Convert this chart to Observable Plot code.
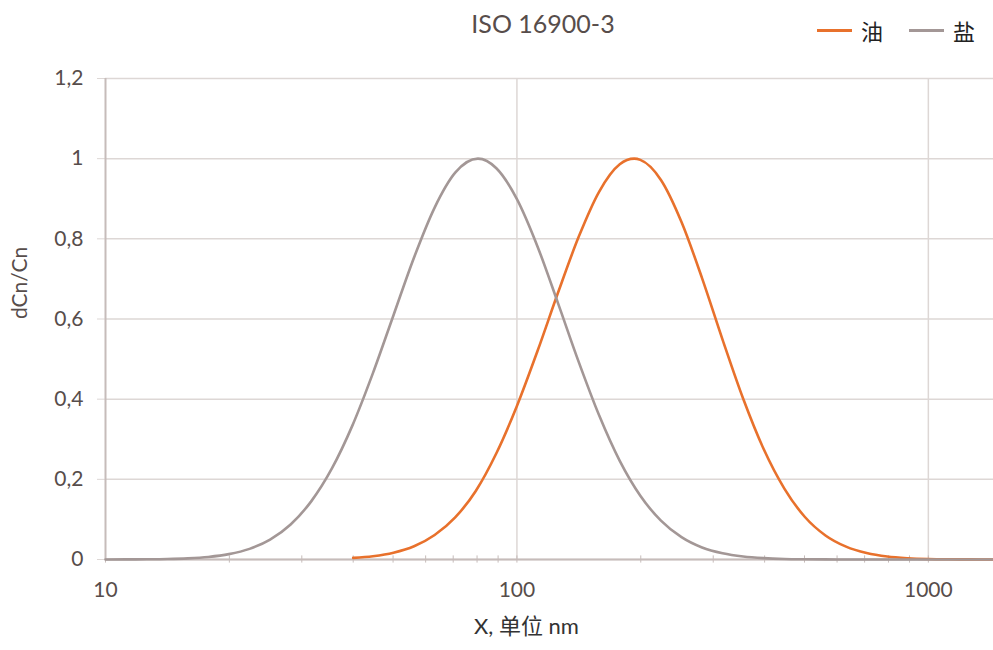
<!DOCTYPE html>
<html><head><meta charset="utf-8">
<script src="https://cdn.jsdelivr.net/npm/d3@7"></script>
<script src="https://cdn.jsdelivr.net/npm/@observablehq/plot@0.6"></script>
<style>
body{margin:0;background:#fff;font-family:Lato,"Noto Sans CJK SC",sans-serif;}
#wrap{position:relative;width:993px;height:650px;overflow:hidden;}
#head{position:relative;width:993px;height:50px;}
#title{position:absolute;left:543px;top:8px;transform:translateX(-50%);font-size:25px;color:#574d4b;white-space:nowrap;line-height:30px;}
#legend{position:absolute;left:817px;top:15px;display:flex;align-items:center;font-family:"Noto Sans CJK SC",sans-serif;font-size:22px;color:#222;line-height:30px;}
.sw{display:inline-block;width:35px;height:3px;margin-right:9px;}
.lab{margin-right:26px;}
</style></head><body>
<div id="wrap">
<div id="head"><div id="title"></div><div id="legend"></div></div>
<div id="chart"></div>
</div>
<script>
const title = "ISO 16900-3";
const seriesNames = ["油", "盐"];
const seriesColors = ["#e8712c", "#a39796"];
const xLabel = "X, 单位 nm";
const yLabel = "dCn/Cn";
const xTicks = [10, 100, 1000];
const xMinorTicks = [10,20,30,40,50,60,70,80,90,100,200,300,400,500,600,700,800,900,1000];
const yTicks = [0, 0.2, 0.4, 0.6, 0.8, 1.0, 1.2];

// 盐 (salt) — size (nm) and dCn/Cn
const saltX = [10,11.22,12.59,14.13,15.85,17.78,19.95,22.39,25.12,28.18,31.62,35.48,39.81,44.67,50.12,56.23,63.10,70.79,80.4,89.13,100,112.2,125.9,141.3,158.5,177.8,199.5,223.9,251.2,281.8,316.2,354.8,398.1,446.7,501.2,562.3,631.0,707.9,794.3,891.3,1000,1122,1259,1440];
const saltY = [0.000,0.0002,0.0005,0.0012,0.0029,0.0064,0.0134,0.0265,0.0495,0.0873,0.145,0.2265,0.334,0.465,0.6095,0.7535,0.878,0.965,1.0,0.976,0.899,0.781,0.639,0.493,0.359,0.246,0.159,0.097,0.0557,0.030,0.0154,0.0074,0.0034,0.0014,0.0006,0.0002,0.0001,0,0,0,0,0,0,0];

// 油 (oil)
const oilX = [40,44.67,50.12,56.23,63.10,70.79,79.43,89.13,100,112.2,125.9,141.3,158.5,177.8,192.8,199.5,223.9,251.2,281.8,316.2,354.8,398.1,446.7,501.2,562.3,631.0,707.9,794.3,891.3,1000,1122,1259,1440];
const oilY = [0.004,0.0083,0.017,0.033,0.061,0.105,0.171,0.265,0.383,0.52,0.666,0.805,0.918,0.986,1.0,0.997,0.947,0.842,0.702,0.548,0.401,0.275,0.177,0.106,0.060,0.032,0.016,0.0073,0.0032,0.0013,0.0005,0.0002,0];

const data = [
  ...oilX.map((x, i) => ({x, y: oilY[i], s: seriesNames[0]})),
  ...saltX.map((x, i) => ({x, y: saltY[i], s: seriesNames[1]}))
];

document.getElementById("title").textContent = title;
const leg = document.getElementById("legend");
seriesNames.forEach((n, i) => {
  const sw = document.createElement("span"); sw.className = "sw"; sw.style.background = seriesColors[i];
  const lb = document.createElement("span"); lb.className = "lab"; lb.textContent = n;
  leg.appendChild(sw); leg.appendChild(lb);
});

const fmt = d => String(d).replace(".", ",");
const gridC = "#ddd7d5";
const textC = "#574d4b";

const chart = Plot.plot({
  width: 993,
  height: 600,
  marginTop: 28,
  marginBottom: 91,
  marginLeft: 105,
  marginRight: 0,
  style: {fontFamily: "Lato, sans-serif", color: textC, background: "#fff", overflow: "visible"},
  x: {type: "log", domain: [10, 1440]},
  y: {domain: [0, 1.2]},
  color: {domain: seriesNames, range: seriesColors},
  marks: [
    Plot.gridY(yTicks, {stroke: gridC, strokeOpacity: 1, strokeWidth: 1.5}),
    Plot.gridX([100, 1000], {stroke: gridC, strokeOpacity: 1, strokeWidth: 1.5}),
    Plot.axisY({ticks: yTicks, tickFormat: fmt, tickSize: 8, tickPadding: 14, fontSize: 21, stroke: gridC, label: null}),
    Plot.axisX({ticks: xTicks, tickFormat: d => String(d), tickSize: 0, tickPadding: 23, fontSize: 21, label: null}),
    Plot.ruleX([10], {stroke: "#c6bcba", strokeWidth: 2}),
    Plot.ruleY([0], {stroke: "#c6bcba", strokeWidth: 2}),
    Plot.ruleX(xMinorTicks, {x: d => d, y1: -0.009, y2: 0.009, stroke: "#c6bcba", strokeWidth: 1}),
    Plot.line(data, {x: "x", y: "y", z: "s", stroke: "s", strokeWidth: 2.6, curve: "monotone-x"}),
    Plot.text([yLabel], {frameAnchor: "left", rotate: -90, dx: -85, fontSize: 21, fill: textC}),
    Plot.text([xLabel], {frameAnchor: "bottom", dy: 74, dx: -23, fontSize: 22, fill: "#333", fontFamily: "Lato, 'Noto Sans CJK SC', sans-serif"})
  ]
});
document.getElementById("chart").appendChild(chart);
</script>
</body></html>
